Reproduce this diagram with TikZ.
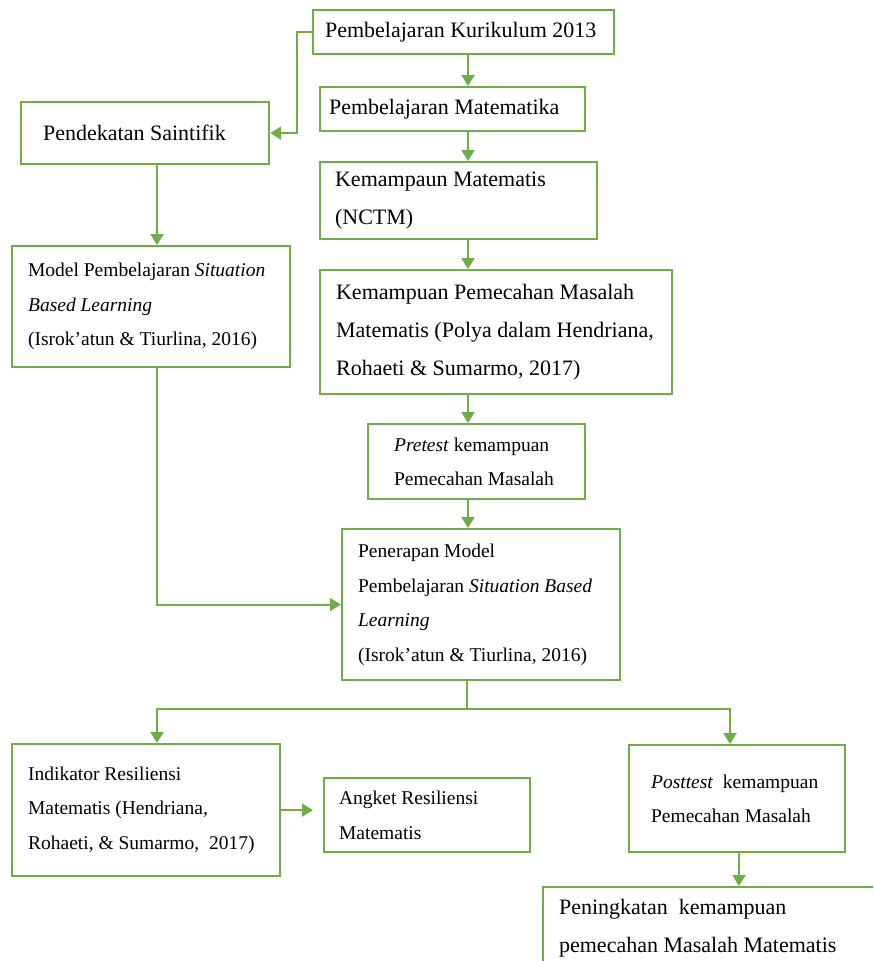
\documentclass[tikz,border=0pt]{standalone}
\usepackage{fontspec}
\setmainfont{Liberation Serif}
\usetikzlibrary{arrows.meta}
\definecolor{boxgreen}{RGB}{112,173,71}

\begin{document}
\begin{tikzpicture}[x=1pt,y=-1pt,
    box/.style={draw=boxgreen,line width=2.2pt,rectangle,anchor=north west,align=flush left,inner ysep=0pt},
    big/.style={font=\fontsize{22}{38}\selectfont},
    small/.style={font=\fontsize{19.5}{34.5}\selectfont},
    link/.style={draw=boxgreen,line width=2.2pt},
    arr/.style={link,-{Triangle[length=11pt,width=13pt]}}]
    \useasboundingbox (0,0) rectangle (873,961);
    \clip (0,0) rectangle (873,961);

    % right column
    \node[box,big,text width=277pt,inner xsep=12pt,minimum height=44pt] (kur) at (312,9) {Pembelajaran Kurikulum 2013};
    \node[box,big,text width=247pt,inner xsep=9pt,minimum height=44pt] (mat) at (319,86) {Pembelajaran Matematika};
    \node[box,big,text width=247pt,inner xsep=15pt,minimum height=77pt] (nctm) at (319,161) {Kemampaun Matematis\\(NCTM)};
    \node[box,big,text width=330pt,inner xsep=11pt,minimum height=124pt] (pms) at (319,269) {\hspace*{5pt}Kemampuan Pemecahan Masalah\\\hspace*{5pt}Matematis (Polya dalam Hendriana,\\\hspace*{5pt}Rohaeti \& Sumarmo, 2017)};
    \node[box,small,text width=165pt,inner xsep=26pt,minimum height=75pt] (pre) at (367,423) {\textit{Pretest} kemampuan\\Pemecahan Masalah};
    \node[box,small,text width=246pt,inner xsep=16pt,minimum height=151pt] (pen) at (341,528) {Penerapan Model\\Pembelajaran \textit{Situation Based}\\\textit{Learning}\\(Isrok’atun \& Tiurlina, 2016)};

    % left column
    \node[box,big,text width=204pt,inner xsep=22pt,minimum height=62pt] (pend) at (20,101) {Pendekatan Saintifik};
    \node[box,small,text width=246pt,inner xsep=16pt,minimum height=121pt] (model) at (11,245) {Model Pembelajaran \textit{Situation}\\\textit{Based Learning}\\(Isrok’atun \& Tiurlina, 2016)};

    % bottom row
    \node[box,small,text width=236pt,inner xsep=16pt,minimum height=132pt] (ind) at (11,743) {Indikator Resiliensi\\Matematis (Hendriana,\\Rohaeti, \& Sumarmo,\ \ 2017)};
    \node[box,small,text width=176pt,inner xsep=15pt,minimum height=74pt] (ang) at (323,777) {Angket Resiliensi\\Matematis};
    \node[box,small,text width=172pt,inner xsep=22pt,minimum height=107pt] (post) at (628,744) {\textit{Posttest}\ \ kemampuan\\Pemecahan Masalah};
    \node[box,big,text width=308pt,inner xsep=16pt,minimum height=83pt] (ning) at (542,886) {Peningkatan\ \ kemampuan\\pemecahan Masalah Matematis};

    \coordinate (mid) at (468,0);
    \coordinate (left) at (157,0);
    \coordinate (right) at (730,0);
    \coordinate (tail) at (739,0);
    \coordinate (fork) at (467,709);

    \foreach \a/\b in {kur/mat,mat/nctm,nctm/pms,pms/pre,pre/pen}{%
        \draw[arr] (\a.south -| mid) -- (\b.north -| mid);
    }
    \draw[arr] (kur.west) -- ++(-15,0) |- (pend.east);
    \draw[arr] (pend.south -| left) -- (model.north -| left);
    \draw[arr] (model.south -| left) |- (pen.west);
    \draw[link] (pen.south -| fork) -- (fork);
    \draw[arr] (fork) -| (ind.north -| left);
    \draw[arr] (fork) -| (post.north -| right);
    \draw[arr,shorten >=10pt] (ind.east) -- (ind.east -| ang.west);
    \draw[arr] (post.south -| tail) -- (ning.north -| tail);

\end{tikzpicture}
\end{document}
